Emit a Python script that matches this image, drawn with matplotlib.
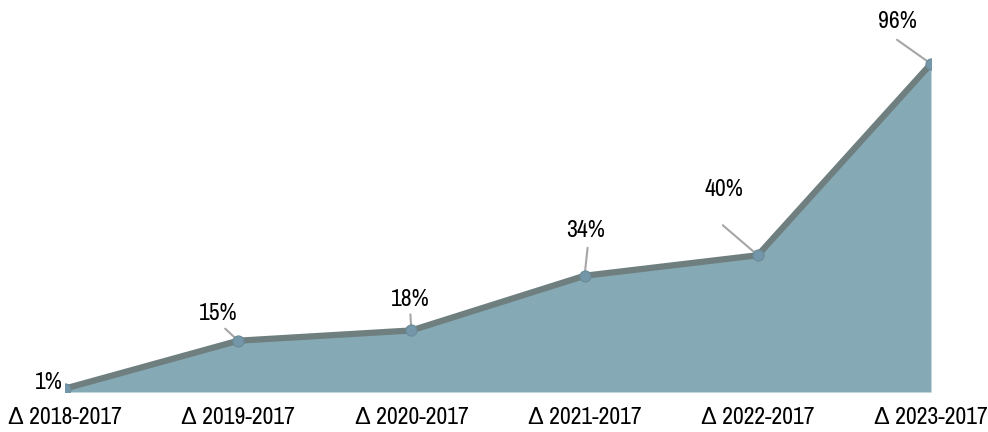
import matplotlib
matplotlib.use("Agg")
import matplotlib.pyplot as plt
from matplotlib import font_manager

categories = ["Δ 2018-2017", "Δ 2019-2017", "Δ 2020-2017", "Δ 2021-2017", "Δ 2022-2017", "Δ 2023-2017"]
values = [1, 15, 18, 34, 40, 96]
labels = ["1%", "15%", "18%", "34%", "40%", "96%"]

# label text offsets (pixels) relative to data points
label_offsets = [(-2, 6), (-20, 27), (-1, 31), (1, 45), (-34, 66), (-34, 42)]
leader_starts = [None, (-13, 12), (-1, 16), (3, 28), (-35, 30), (-34, 24)]

names = {f.name for f in font_manager.fontManager.ttflist}
fam = "Liberation Sans"
fs = 14
for cand in ["Arial Narrow", "Liberation Sans Narrow", "Archivo Narrow"]:
    if cand in names:
        fam = cand
        fs = 17
        break
plt.rcParams['font.family'] = [fam, 'Liberation Sans', 'DejaVu Sans']

fig = plt.figure(figsize=(9.88, 4.32), dpi=100)
ax = fig.add_axes([0.0658, 0.0926, 0.8765, 0.7914])
x = list(range(len(values)))

ax.fill_between(x, 0, values, color="#86AAB5", zorder=1, linewidth=0)
ax.plot(x, values, color="#6F7F7F", linewidth=4.5, solid_joinstyle="round",
        solid_capstyle="round", zorder=2)
ax.plot(x, values, linestyle="none", marker="o", markersize=8,
        markerfacecolor="#7397A8", markeredgecolor="#6A8A98", markeredgewidth=0.8, zorder=3)

for i, (v, lab) in enumerate(zip(values, labels)):
    dx, dy = label_offsets[i]
    ha = "right" if i == 0 else "center"
    ax.annotate(lab, (i, v), xytext=(dx, dy), textcoords="offset pixels",
                ha=ha, va="center", fontsize=fs, color="black", zorder=4)
    if leader_starts[i] is not None:
        sx, sy = leader_starts[i]
        ax.annotate("", (i, v), xytext=(sx, sy), textcoords="offset pixels",
                    arrowprops=dict(arrowstyle="-", color="#A6A6A6", lw=1.5,
                                    shrinkA=0, shrinkB=2), zorder=2.5)

ax.set_xlim(0, 5)
ax.set_ylim(0, 100)
ax.set_xticks(x)
ax.set_xticklabels(categories, fontsize=fs)
ax.tick_params(axis="x", length=0, pad=11)
ax.set_yticks([])
for s in ax.spines.values():
    s.set_visible(False)

fig.savefig("out.png", dpi=100)
